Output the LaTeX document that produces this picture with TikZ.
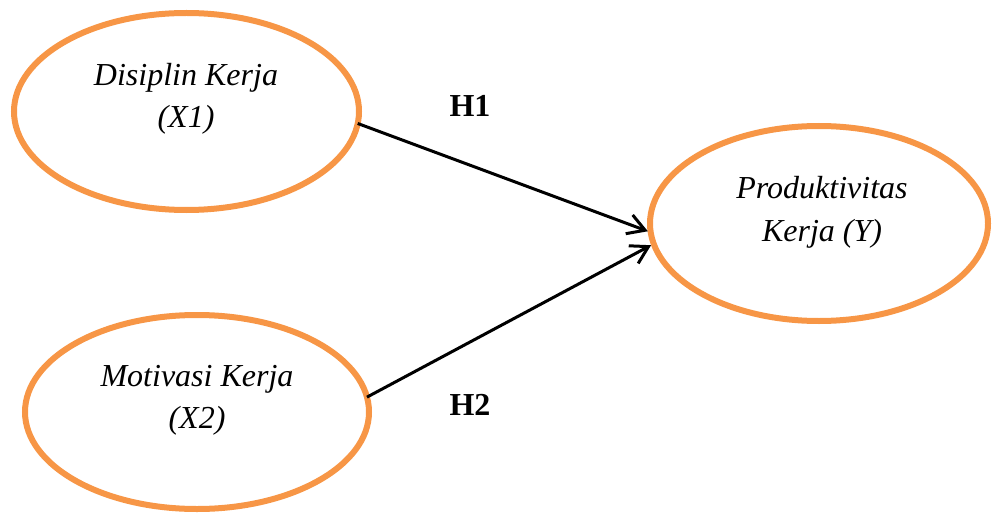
\documentclass[tikz,border=0pt]{standalone}
\usepackage{fontspec}
\setmainfont{Liberation Serif}
\usetikzlibrary{shapes.geometric,arrows.meta}
\definecolor{accentorange}{HTML}{F79646}
\begin{document}
\begin{tikzpicture}[x=1pt,y=-1pt,
  varbox/.style={ellipse,draw=accentorange,line width=6pt,inner sep=0pt,outer sep=0pt},
  vartext/.style={align=center,font=\fontsize{32}{42.5}\selectfont\itshape,inner sep=0pt},
  hyplabel/.style={anchor=base,font=\fontsize{32}{38}\selectfont\bfseries,inner sep=0pt},
  hpath/.style={line width=3pt,shorten >=3pt,-{Straight Barb[length=17pt,width=20pt,line width=3pt]}}
]
\useasboundingbox (0,0) rectangle (992,513);

% latent variables
\node[varbox,minimum width=345pt,minimum height=197pt] (x1) at (186.5,111.5) {};
\node[varbox,minimum width=344pt,minimum height=194pt] (x2) at (197,412) {};
\node[varbox,minimum width=338pt,minimum height=195pt] (y) at (819,223.5) {};

\node[vartext] (x1t) at (186,99) {Disiplin Kerja\\(X1)};
\node[vartext] (x2t) at (197,400.5) {Motivasi Kerja\\(X2)};
\node[vartext] (yt) at (822,212.5) {Produktivitas\\Kerja (Y)};

% hypothesised paths
\draw[hpath] (x1.-4.4) -- (y.183.8);
\draw[hpath] (x2.5.9) -- (y.187.7);

\node[hyplabel] (h1) at (470,117) {H1};
\node[hyplabel] (h2) at (470,415) {H2};
\end{tikzpicture}
\end{document}
